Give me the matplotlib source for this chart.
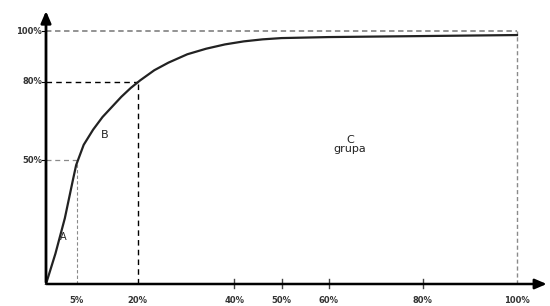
import matplotlib
matplotlib.use("Agg")
import matplotlib.pyplot as plt

# Pareto (ABC) curve: cumulative share of items (x, %) vs value (y, %)
items_pct = [0, 2, 4, 5.7, 6.4, 8, 10, 12, 14, 16, 18, 20, 23, 26, 30, 34, 38, 42, 46, 50, 60, 80, 100]
value_pct = [0, 12, 26, 41, 47, 55, 61, 66, 70, 74, 77.5, 80.5, 84.5, 87.5, 90.8, 93.0, 94.7, 95.9, 96.7,
             97.2, 97.6, 98.0, 98.4]

# x tick positions as drawn (the 5% mark sits a little right of true 5%)
xtick_pos = [6.5, 19.5, 40, 50, 60, 80, 100]
xtick_lab = ["5%", "20%", "40%", "50%", "60%", "80%", "100%"]
ytick_pos = [49, 80, 100]
ytick_lab = ["50%", "80%", "100%"]

# group labels
groups = [("A", 3.6, 18.5, 7), ("B", 12.5, 59, 8), ("C\ngrupa", 64.5, 55, 8)]

fig = plt.figure(figsize=(5.5, 3.06), dpi=100)
ax = fig.add_axes([0, 0, 1, 1])
ax.set_xlim(-46 / 4.71, 504 / 4.71)
ax.set_ylim(-22 / 2.53, 284 / 2.53)
ax.axis("off")

grey = "#8a8a8a"

# guide lines
ax.plot([0, 100], [100, 100], color=grey, lw=1.3, ls=(0, (3, 2)))
ax.plot([100, 100], [0, 100], color=grey, lw=1.0, ls=(0, (3, 2)))
ax.plot([0, 19.5], [80, 80], color="black", lw=1.0, ls=(0, (4, 3)))
ax.plot([19.5, 19.5], [0, 80], color="black", lw=1.0, ls=(0, (4, 3)))
ax.plot([0, 6.5], [49, 49], color=grey, lw=0.9, ls=(0, (4, 3)))
ax.plot([6.5, 6.5], [0, 49], color=grey, lw=0.8, ls=(0, (3, 2)))

# curve
ax.plot(items_pct, value_pct, color="#222222", lw=1.6, solid_joinstyle="round")

# axes with arrows
ax.annotate("", xy=(0, 109), xytext=(0, -0.4), annotation_clip=False,
            arrowprops=dict(arrowstyle="-|>,head_length=0.7,head_width=0.3", color="black", lw=2.0))
ax.annotate("", xy=(106.9, 0), xytext=(-0.3, 0), annotation_clip=False,
            arrowprops=dict(arrowstyle="-|>,head_length=0.7,head_width=0.3", color="black", lw=1.8))

# small ticks on x axis
for xp in [40, 50, 60, 80]:
    ax.plot([xp, xp], [-1.6, 1.8], color="#444444", lw=1.0)

for xp, lab in zip(xtick_pos, xtick_lab):
    ax.text(xp, -4.6, lab, ha="center", va="top", fontsize=6, fontweight="bold", color="#333333")
for yp, lab in zip(ytick_pos, ytick_lab):
    ax.text(-0.8, yp, lab, ha="right", va="center", fontsize=6, fontweight="bold", color="#333333")
    ax.plot([-0.9, 0], [yp, yp], color="black", lw=0.8)

for lab, xp, yp, fs in groups:
    ax.text(xp, yp, lab, ha="center", va="center", fontsize=fs, color="#222222", linespacing=0.9)

fig.savefig("out.png", dpi=100)
